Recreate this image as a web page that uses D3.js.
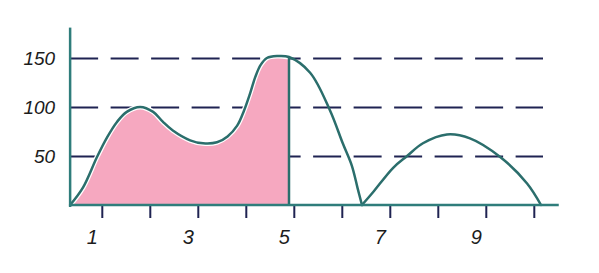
<!DOCTYPE html>
<html>
<head>
<meta charset="utf-8">
<script src="https://cdn.jsdelivr.net/npm/d3@7"></script>
<style>
  html, body { margin: 0; padding: 0; background: #fff; }
  svg { display: block; }
</style>
</head>
<body>
<div id="chart"></div>
<script>
// curve, [x, y]
const mainCurve = [
  [0.34, 0], [0.61, 18], [0.90, 49], [1.11, 69], [1.32, 85], [1.52, 95], [1.80, 100],
  [2.07, 95], [2.27, 85], [2.48, 76], [2.84, 66], [3.11, 63], [3.40, 64], [3.62, 70],
  [3.82, 81], [3.96, 96], [4.09, 114], [4.20, 131], [4.31, 143], [4.44, 150], [4.65, 152],
  [4.90, 151], [5.34, 135], [5.75, 97], [6.02, 63], [6.21, 40], [6.33, 17], [6.42, 0]
];
const secondCurve = [
  [6.42, 0], [6.65, 13], [7.07, 38], [7.36, 50], [7.69, 63], [8.19, 72], [8.67, 68],
  [9.30, 49], [9.86, 22], [10.15, 0]
];
const fillEnd = 4.90;
const xTicks = [1, 2, 3, 4, 5, 6, 7, 8, 9, 10];
const xLabels = [1, 3, 5, 7, 9];
const yTicks = [50, 100, 150];

const width = 599;
const height = 273;

const x = d3.scaleLinear().domain([0, 10]).range([53.8, 533.8]);
const y = d3.scaleLinear().domain([0, 180]).range([205, 28.6]);

const xStart = 0.34;   // where the y axis sits
const xEnd = 10.52;
const gridEnd = 543;

const teal = "#2b6e6c";
const axisTeal = "#2f7d7b";
const navy = "#1f2352";
const pink = "#f6a8c0";
const font = "'Liberation Sans', Arial, sans-serif";

const svg = d3.select("#chart").append("svg")
  .attr("width", width)
  .attr("height", height)
  .attr("viewBox", [0, 0, width, height]);

// grid + y labels
const yAxis = g => g
  .attr("transform", `translate(${x(xStart)},0)`)
  .call(d3.axisLeft(y)
    .tickValues(yTicks)
    .tickSize(-(gridEnd - x(xStart)))
    .tickPadding(15))
  .call(g => g.select(".domain").remove())
  .call(g => g.selectAll(".tick line")
    .attr("stroke", navy)
    .attr("stroke-width", 2)
    .attr("stroke-dasharray", "28,12.5"))
  .call(g => g.selectAll(".tick text")
    .attr("fill", "#1c1c1c")
    .style("font-family", font)
    .style("font-style", "italic")
    .style("font-size", "19px"));

svg.append("g").call(yAxis);

const curve = d3.curveCatmullRom.alpha(0.5);

// pink area up to x = 5
const fillData = mainCurve.filter(d => d[0] <= fillEnd);
const area = d3.area()
  .x(d => x(d[0]))
  .y0(y(0))
  .y1(d => y(d[1]))
  .curve(curve);

svg.append("path")
  .datum(fillData)
  .attr("fill", pink)
  .attr("d", area);

const line = d3.line()
  .x(d => x(d[0]))
  .y(d => y(d[1]))
  .curve(curve);

// thin white rim under the curve over the fill
svg.append("path")
  .datum(fillData)
  .attr("fill", "none")
  .attr("stroke", "#fff")
  .attr("stroke-width", 5)
  .attr("d", line);

svg.append("g")
  .attr("fill", "none")
  .attr("stroke", teal)
  .attr("stroke-width", 2.5)
  .attr("stroke-linejoin", "round")
  .attr("stroke-linecap", "round")
  .selectAll("path")
  .data([mainCurve, secondCurve])
  .join("path")
  .attr("d", line);

// vertical line at x = 5
svg.append("line")
  .attr("x1", x(fillEnd)).attr("x2", x(fillEnd))
  .attr("y1", y(151)).attr("y2", y(0))
  .attr("stroke", teal)
  .attr("stroke-width", 2.5);

// x axis ticks + labels
const xAxis = g => g
  .attr("transform", `translate(0,${y(0)})`)
  .call(d3.axisBottom(x)
    .tickValues(xTicks)
    .tickSize(13)
    .tickPadding(12)
    .tickFormat(d => xLabels.includes(d) ? d : ""))
  .call(g => g.select(".domain").remove())
  .call(g => g.selectAll(".tick line")
    .attr("stroke", navy)
    .attr("stroke-width", 2))
  .call(g => g.selectAll(".tick text")
    .attr("dx", -10)
    .attr("fill", "#1c1c1c")
    .style("font-family", font)
    .style("font-style", "italic")
    .style("font-size", "20px"));

svg.append("g").call(xAxis);

// axis lines
svg.append("line")
  .attr("x1", x(xStart)).attr("x2", x(xEnd))
  .attr("y1", y(0)).attr("y2", y(0))
  .attr("stroke", axisTeal)
  .attr("stroke-width", 2.5);

svg.append("line")
  .attr("x1", x(xStart)).attr("x2", x(xStart))
  .attr("y1", y(180) - 1).attr("y2", y(0) + 2)
  .attr("stroke", axisTeal)
  .attr("stroke-width", 2.5);
</script>
</body>
</html>
